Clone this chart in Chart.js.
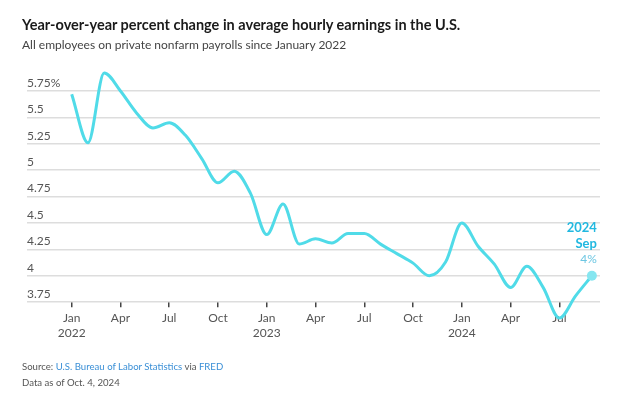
<!DOCTYPE html>
<html>
<head>
<meta charset="utf-8">
<script src="https://cdn.jsdelivr.net/npm/chart.js@4"></script>
<style>
  body { margin: 0; background: #fff; font-family: Lato, "Open Sans", sans-serif; }
  #wrap { position: relative; width: 640px; height: 400px; }
  #title { position: absolute; left: 22px; top: 16px; font-size: 14.5px; font-weight: bold; color: #1a1a1a; }
  #subtitle { position: absolute; left: 22px; top: 37px; font-size: 12px; color: #444; }
  #source { position: absolute; left: 22px; top: 359px; font-size: 9.6px; color: #555; line-height: 16px; }
  #source span { color: #3a8fd6; }
  canvas { position: absolute; left: 0; top: 0; }
</style>
</head>
<body>
<div id="wrap">
  <canvas id="chart" width="640" height="400"></canvas>
  <div id="title">Year-over-year percent change in average hourly earnings in the U.S.</div>
  <div id="subtitle">All employees on private nonfarm payrolls since January 2022</div>
  <div id="source">Source: <span>U.S. Bureau of Labor Statistics</span> via <span>FRED</span><br>Data as of Oct. 4, 2024</div>
</div>
<script>
// months Jan 2022 .. Sep 2024
var months = ["Jan","Feb","Mar","Apr","May","Jun","Jul","Aug","Sep","Oct","Nov","Dec"];
var startYear = 2022;
var earnings = [
    5.72, 5.26, 5.92, 5.75, 5.54, 5.40, 5.45, 5.33, 5.11, 4.88, 4.99, 4.78,
    4.39, 4.68, 4.30, 4.35, 4.31, 4.40, 4.40, 4.30, 4.21, 4.12, 4.00, 4.13,
    4.50, 4.28, 4.11, 3.89, 4.09, 3.89, 3.60, 3.81, 4.00
];
var yTicks = [3.75, 4, 4.25, 4.5, 4.75, 5, 5.25, 5.5, 5.75];
var xTickIdx = [0, 3, 6, 9, 12, 15, 18, 21, 24, 27, 30];

var points = earnings.map(function(v, i) { return { x: i, y: v }; });
var last = points.length - 1;

var endLabel = {
    id: 'endLabel',
    afterDatasetsDraw: function(chart) {
        var ctx = chart.ctx;
        var px = chart.scales.x.getPixelForValue(last);
        var py = chart.scales.y.getPixelForValue(earnings[last]);
        var yr = startYear + Math.floor(last / 12);
        ctx.save();
        ctx.textAlign = 'right';
        ctx.textBaseline = 'middle';
        ctx.font = 'bold 13px Lato, sans-serif';
        ctx.fillStyle = '#22b8e0';
        ctx.fillText(String(yr), px + 5, py - 48);
        ctx.fillText(months[last % 12], px + 5, py - 32);
        ctx.font = '12px Lato, sans-serif';
        ctx.fillStyle = '#6cc6e2';
        ctx.fillText(earnings[last].toFixed(0) + '%', px + 5, py - 17);
        ctx.restore();
    }
};

new Chart(document.getElementById('chart'), {
    type: 'line',
    data: {
        datasets: [{
            data: points,
            borderColor: '#50dbe8',
            borderWidth: 3,
            cubicInterpolationMode: 'monotone',
            clip: false,
            pointRadius: points.map(function(p, i) { return i === last ? 5 : 0; }),
            pointBackgroundColor: '#86e6f0',
            pointBorderWidth: 0
        }]
    },
    options: {
        responsive: false,
        animation: false,
        events: [],
        layout: { padding: { left: 27, right: 40, top: 91, bottom: 56 } },
        plugins: { legend: { display: false }, tooltip: { enabled: false } },
        scales: {
            x: {
                type: 'linear',
                min: -2.75,
                max: 32.5,
                afterBuildTicks: function(axis) {
                    axis.ticks = xTickIdx.map(function(v) { return { value: v }; });
                },
                ticks: {
                    autoSkip: false,
                    maxRotation: 0,
                    padding: 4,
                    color: '#555',
                    font: { family: 'Lato, sans-serif', size: 12 },
                    callback: function(v) {
                        var m = months[v % 12];
                        if (v % 12 === 0) return [m, String(startYear + v / 12)];
                        return m;
                    }
                },
                grid: { drawOnChartArea: false, drawTicks: true, tickLength: 5, color: '#444', lineWidth: 1.5 },
                border: { display: false }
            },
            y: {
                min: 3.75,
                max: 5.75,
                afterBuildTicks: function(axis) {
                    axis.ticks = yTicks.map(function(v) { return { value: v }; });
                },
                ticks: {
                    mirror: true,
                    padding: 0,
                    labelOffset: -8,
                    color: '#555',
                    font: { family: 'Lato, sans-serif', size: 12 },
                    callback: function(v) { return v === 5.75 ? v + '%' : String(v); }
                },
                grid: { color: '#dddddd', lineWidth: 1.5, drawTicks: false },
                border: { display: false }
            }
        }
    },
    plugins: [endLabel]
});
</script>
</body>
</html>
